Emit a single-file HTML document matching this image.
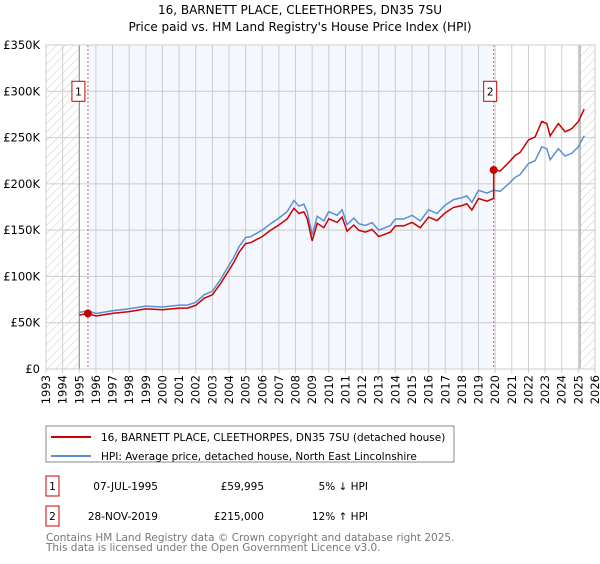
<!DOCTYPE html>
<html><head><meta charset="utf-8"><style>
body{margin:0;background:#fff;font-family:"DejaVu Sans","Liberation Sans",sans-serif;}
svg{font-family:"DejaVu Sans","Liberation Sans",sans-serif;}
</style></head><body>
<svg width="600" height="560" xmlns="http://www.w3.org/2000/svg">
<defs><pattern id="hatch" width="6" height="6" patternUnits="userSpaceOnUse" patternTransform="rotate(45)"><line x1="0" y1="0" x2="0" y2="6" stroke="#ccc" stroke-width="1"/></pattern></defs>
<text x="300" y="14" text-anchor="middle" font-size="12">16, BARNETT PLACE, CLEETHORPES, DN35 7SU</text>
<text x="300" y="31" text-anchor="middle" font-size="12">Price paid vs. HM Land Registry's House Price Index (HPI)</text>
<g id="plot"></g>
<g id="legend">
<rect x="46" y="426" width="408" height="36" fill="#fff" stroke="#888"/>
<line x1="51" y1="437" x2="91" y2="437" stroke="#cc0000" stroke-width="2"/>
<text x="101" y="441" font-size="10.5">16, BARNETT PLACE, CLEETHORPES, DN35 7SU (detached house)</text>
<line x1="51" y1="456" x2="91" y2="456" stroke="#5b8fd4" stroke-width="2"/>
<text x="101" y="460" font-size="10.5">HPI: Average price, detached house, North East Lincolnshire</text>
</g>
<g font-size="10.5">
<rect x="46" y="476" width="13" height="20" fill="#fff" stroke="#cc0000"/><text x="52.5" y="490" text-anchor="middle">1</text>
<text x="158" y="490" text-anchor="end">07-JUL-1995</text><text x="264" y="490" text-anchor="end">£59,995</text><text x="368" y="490" text-anchor="end">5% ↓ HPI</text>
<rect x="46" y="506" width="13" height="20" fill="#fff" stroke="#cc0000"/><text x="52.5" y="520" text-anchor="middle">2</text>
<text x="158" y="520" text-anchor="end">28-NOV-2019</text><text x="264" y="520" text-anchor="end">£215,000</text><text x="368" y="520" text-anchor="end">12% ↑ HPI</text>
</g>
<text x="46" y="541" font-size="10.5" fill="#777">Contains HM Land Registry data © Crown copyright and database right 2025.</text>
<text x="46" y="551" font-size="10.5" fill="#777">This data is licensed under the Open Government Licence v3.0.</text>
</svg>
<script>
const hpiYears=[1995,1995.5,1996,1997,1998,1999,2000,2001,2001.5,2002,2002.5,2003,2003.5,2004,2004.3,2004.6,2005,2005.3,2006,2006.5,2007,2007.5,2007.9,2008.2,2008.5,2008.7,2009.0,2009.3,2009.7,2010,2010.5,2010.8,2011.1,2011.5,2011.8,2012.2,2012.6,2013.0,2013.3,2013.7,2014,2014.5,2015,2015.5,2016,2016.5,2017,2017.5,2018,2018.3,2018.6,2019,2019.5,2019.9,2020.3,2020.8,2021.2,2021.5,2022,2022.4,2022.8,2023.1,2023.3,2023.8,2024.2,2024.6,2025.0,2025.35];
const hpiValues=[61,63,60,63,65,68,67,69,69,72,80,84,97,112,121,132,142,143,150,157,163,170,182,176,178,170,145,165,160,170,166,172,156,163,157,155,158,150,152,155,162,162,166,160,172,168,177,183,185,187,180,193,190,193,192,200,207,210,222,225,240,238,226,238,230,233,240,252];
const saleYears=[1995.52,2019.91];
const salePrices=[59.995,215];
const yTicks=[0,50,100,150,200,250,300,350];
const yTickLabels=["£0","£50K","£100K","£150K","£200K","£250K","£300K","£350K"];
const xTicks=[1993,1994,1995,1996,1997,1998,1999,2000,2001,2002,2003,2004,2005,2006,2007,2008,2009,2010,2011,2012,2013,2014,2015,2016,2017,2018,2019,2020,2021,2022,2023,2024,2025,2026];
const X0=46,X1=595,Y0=369,Y1=45;
const xs=y=>X0+(y-1993)/(2026-1993)*(X1-X0);
const ys=v=>Y0-v/350*(Y0-Y1);
const NS="http://www.w3.org/2000/svg";
const g=document.getElementById('plot');
function mk(t,a,p){const e=document.createElementNS(NS,t);for(const k in a)e.setAttribute(k,a[k]);(p||g).appendChild(e);return e;}
function hpiAt(t){for(let i=0;i<hpiYears.length-1;i++){if(t<=hpiYears[i+1]){const f=(t-hpiYears[i])/(hpiYears[i+1]-hpiYears[i]);return hpiValues[i]+f*(hpiValues[i+1]-hpiValues[i]);}}return hpiValues[hpiValues.length-1];}
let e;
e=mk('rect',{x:xs(saleYears[0]),y:Y1,width:xs(saleYears[1])-xs(saleYears[0]),height:Y0-Y1,fill:'#f4f7fd'});


e=mk('rect',{x:X0,y:Y1,width:xs(1995)-X0,height:Y0-Y1,fill:'url(#hatch)'});


e=mk('rect',{x:xs(2025.1),y:Y1,width:X1-xs(2025.1),height:Y0-Y1,fill:'url(#hatch)'});


xTicks.forEach(t=>{
 e=mk('line',{x1:xs(t),x2:xs(t),y1:Y1,y2:Y0+4,stroke:'#ccc'});
 
 
 e=mk('text',{x:0,y:0,transform:`translate(${xs(t)+4},${Y0+6}) rotate(-90)`,'text-anchor':'end','font-size':'11.5'});
 e.textContent=t;
 
 
});
yTicks.forEach((v,i)=>{
 e=mk('line',{x1:X0,x2:X1,y1:ys(v),y2:ys(v),stroke:'#ccc'});
 
 
 e=mk('text',{x:X0-6,y:ys(v)+4,'text-anchor':'end','font-size':'11.5'});
 e.textContent=yTickLabels[i];
 
 
});
e=mk('line',{x1:xs(1995),x2:xs(1995),y1:Y1,y2:Y0,stroke:'#888'});


e=mk('line',{x1:xs(2025.1),x2:xs(2025.1),y1:Y1,y2:Y0,stroke:'#888'});


saleYears.forEach((s,i)=>{
 e=mk('line',{x1:xs(s),x2:xs(s),y1:Y1,y2:Y0,stroke:'#e06060','stroke-dasharray':'2,2'});
 
 
});
let hp=hpiYears.map((t,i)=>`${i?'L':'M'}${xs(t).toFixed(1)},${ys(hpiValues[i]).toFixed(1)}`).join('');
e=mk('path',{d:hp,fill:'none',stroke:'#5b8fd4','stroke-width':1.5});


const r1=salePrices[0]/hpiAt(saleYears[0]),r2=salePrices[1]/hpiAt(saleYears[1]);
let pts=[];
hpiYears.forEach((t,i)=>{if(t<saleYears[1])pts.push([t,hpiValues[i]*r1]);});
pts.push([saleYears[1],hpiAt(saleYears[1])*r1]);
pts.push([saleYears[1],salePrices[1]]);
hpiYears.forEach((t,i)=>{if(t>saleYears[1])pts.push([t,hpiValues[i]*r2]);});
e=mk('path',{d:pts.map((p,i)=>`${i?'L':'M'}${xs(p[0]).toFixed(1)},${ys(p[1]).toFixed(1)}`).join(''),fill:'none',stroke:'#cc0000','stroke-width':1.5});


saleYears.forEach((s,i)=>{
 e=mk('circle',{cx:xs(s),cy:ys(salePrices[i]),r:4,fill:'#cc0000'});
 
 
 e=mk('rect',{x:xs(s)-(i?10:16),y:ys(300)-10,width:13,height:20,fill:'#fff',stroke:'#cc0000'});
 
 
 e=mk('text',{x:xs(s)-(i?3.5:9.5),y:ys(300)+4,'text-anchor':'middle','font-size':'10.5'});
 e.textContent=String(i+1);
 
 
});
e=mk('rect',{x:X0,y:Y1,width:X1-X0,height:Y0-Y1,fill:'none',stroke:'#ccc'});


</script>
</body></html>
